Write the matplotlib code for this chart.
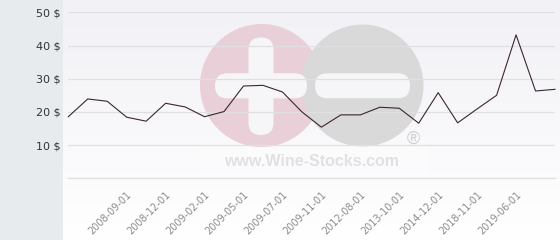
import numpy as np
import matplotlib
matplotlib.use("Agg")
import matplotlib.pyplot as plt
from matplotlib.patches import Circle, FancyBboxPatch, Rectangle
from matplotlib.colors import LinearSegmentedColormap

# ---- data ----
prices = [18.55, 23.9, 23.2, 18.4, 17.2, 22.6, 21.5, 18.55, 20.1, 27.8,
          28.0, 26.0, 20.0, 15.4, 19.1, 19.1, 21.4, 21.1, 16.6, 25.8,
          16.7, 20.9, 25.0, 43.2, 26.3, 26.8]
date_labels = ['', '', '', '2008-09-01', '', '2008-12-01', '', '2009-02-01', '',
               '2009-05-01', '', '2009-07-01', '', '2009-11-01', '', '2012-08-01',
               '', '2013-10-01', '', '2014-12-01', '', '2018-11-01', '', '2019-06-01',
               '', '']
y_ticks = [0, 10, 20, 30, 40, 50]
y_tick_labels = ['', '10 $', '20 $', '30 $', '40 $', '50 $']

W, H = 560, 240
fig = plt.figure(figsize=(W / 100, H / 100), dpi=100, facecolor='#e7ebee')

# gradient background of plot area
bg = fig.add_axes([63 / W, 0, (W - 63) / W, 1], zorder=0)
cmap = LinearSegmentedColormap.from_list('g', ['#f1f1f6', '#ffffff'])
grad = np.linspace(0, 1, 256).reshape(-1, 1)
bg.imshow(grad, aspect='auto', cmap=cmap, extent=[0, 1, 0, 1], origin='upper')
bg.axis('off')

# watermark overlay (pixel coordinates)
ov = fig.add_axes([0, 0, 1, 1], zorder=1)
ov.set_xlim(0, W)
ov.set_ylim(H, 0)
ov.axis('off')
ov.patch.set_alpha(0)
ov.add_patch(Rectangle((200, 146), 227, 30, facecolor='white', edgecolor='none', alpha=0.35))
ov.add_patch(Circle((261.5, 85.5), 61.5, facecolor='#e9d0d8', edgecolor='none'))
ov.add_patch(Circle((362.5, 85.5), 61, facecolor='#d9d9da', edgecolor='none'))
wb = '#f6f6f9'
ov.add_patch(FancyBboxPatch((248.5 + 12.5, 37.5 + 12.5), 0, 97.5 - 25,
                            boxstyle='round,pad=12.5', facecolor=wb, edgecolor='none'))
ov.add_patch(FancyBboxPatch((215 + 12.5, 73.3 + 12.5), 92 - 25, 0,
                            boxstyle='round,pad=12.5', facecolor=wb, edgecolor='none'))
ov.add_patch(FancyBboxPatch((315 + 12.5, 73.3 + 12.5), 95 - 25, 0,
                            boxstyle='round,pad=12.5', facecolor=wb, edgecolor='none'))
ov.text(312, 161, 'www.Wine-Stocks.com', ha='center', va='center',
        fontsize=11.5, fontweight='bold', family='Liberation Sans', color='#e1e1e3')
ov.text(413, 139, '\u00ae', ha='center', va='center', fontsize=13,
        family='Liberation Sans', color='#cfcfd1')

# data axes
x0, x1 = 68.3, 555
ytop, ybot = 12.3, 178.3
ax = fig.add_axes([x0 / W, (H - ybot) / H, (x1 - x0) / W, (ybot - ytop) / H], zorder=2)
ax.patch.set_alpha(0)
x = np.arange(len(prices))
ax.plot(x, prices, color='#3a2632', lw=0.8, clip_on=False, zorder=3)
ax.set_xlim(0, len(prices) - 1)
ax.set_ylim(0, 50)
ax.set_yticks(y_ticks)
ax.set_yticklabels(y_tick_labels, fontsize=8, color='#333333')
ax.set_xticks(x)
ax.set_xticklabels(date_labels, fontsize=7, color='#8c8c8c')
plt.setp(ax.get_xticklabels(), rotation=45, ha='right', rotation_mode='anchor')
ax.tick_params(axis='y', length=0, pad=5.8)
ax.tick_params(axis='x', length=0, pad=8.0)
ax.grid(axis='y', color='#e0e0e2', lw=0.9)
ax.grid(axis='x', visible=False)
ax.axhline(y_ticks[0], color='#e0e0e2', lw=0.9, clip_on=False, zorder=1)
for s in ax.spines.values():
    s.set_visible(False)
ax.set_axisbelow(True)

fig.savefig('out.png', dpi=100, facecolor=fig.get_facecolor())
